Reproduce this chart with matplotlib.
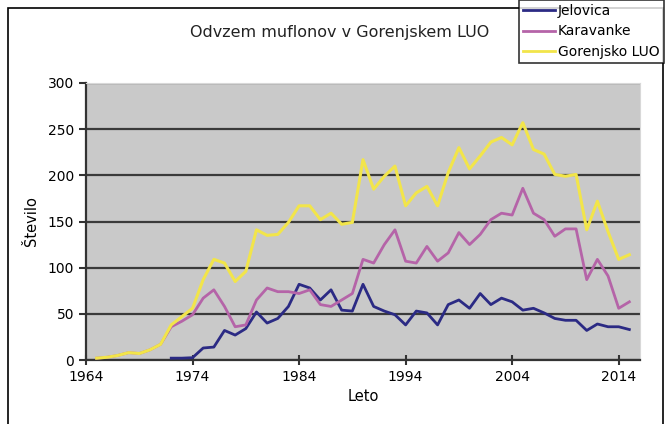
import matplotlib
matplotlib.use("Agg")
import matplotlib.pyplot as plt
from matplotlib.patches import Rectangle

years_gor = list(range(1965, 2016))
gorenjsko = [2, 3, 5, 8, 7, 11, 17, 38, 47, 56, 87, 109, 105, 85, 96, 141, 135, 136,
             149, 167, 167, 152, 159, 147, 149, 217, 185, 199, 210, 167, 181, 188, 167,
             203, 230, 207, 221, 236, 241, 233, 257, 228, 223, 201, 199, 201, 141, 172,
             139, 109, 114]

years_kar = list(range(1965, 2016))
karavanke = [2, 3, 5, 8, 7, 11, 17, 36, 42, 49, 67, 76, 58, 36, 38, 65, 78, 74,
             74, 72, 76, 60, 58, 65, 72, 109, 105, 125, 141, 107, 105, 123, 107,
             116, 138, 125, 136, 152, 159, 157, 186, 159, 152, 134, 142, 142, 87, 109,
             91, 56, 63]

years_jel = list(range(1972, 2016))
jelovica = [2, 2, 2.5, 13, 14, 32, 27, 34, 52, 40, 45, 58, 82, 78, 65, 76, 54, 53,
            82, 58, 53, 49, 38, 53, 51, 38, 60, 65, 56, 72, 60, 67, 63, 54, 56, 51,
            45, 43, 43, 32, 39, 36, 36, 33]

x_ticks = [1964, 1974, 1984, 1994, 2004, 2014]
y_ticks = [0, 50, 100, 150, 200, 250, 300]

W, H = 669, 424
fig = plt.figure(figsize=(W / 100, H / 100), dpi=100)
fig.patch.set_facecolor("white")

# outer chart frame
fig.patches.append(Rectangle((8 / W, -0.01), (663 - 8) / W, (H - 8) / H + 0.01,
                             transform=fig.transFigure, fill=False,
                             edgecolor="black", linewidth=1.2))

ax = fig.add_axes([86 / W, 1 - 360 / H, (640 - 86) / W, (360 - 83) / H])
ax.set_facecolor("#c9c9c9")

ax.plot(years_jel, jelovica, color="#2b2a84", linewidth=2.0, label="Jelovica", zorder=3)
ax.plot(years_kar, karavanke, color="#b564a8", linewidth=2.0, label="Karavanke", zorder=3)
ax.plot(years_gor, gorenjsko, color="#f2e54a", linewidth=2.2, label="Gorenjsko LUO", zorder=4)

ax.set_xlim(1964, 2016)
ax.set_ylim(0, 300)
ax.set_xticks(x_ticks)
ax.set_yticks(y_ticks)
ax.yaxis.grid(True, color="#3a3a3a", linewidth=1.6)
ax.set_axisbelow(True)
ax.tick_params(axis="both", labelsize=10, color="#333333", width=1.5, length=5)
ax.tick_params(axis="x", direction="inout", length=7)

for side in ("top", "right"):
    ax.spines[side].set_color("#d8d8d8")
for side in ("left", "bottom"):
    ax.spines[side].set_color("#333333")
    ax.spines[side].set_linewidth(1.6)

ax.set_xlabel("Leto", fontsize=10.5, labelpad=4)
ax.set_ylabel("Število", fontsize=10.5, labelpad=6)

fig.text(340 / W, 1 - 33 / H, "Odvzem muflonov v Gorenjskem LUO", ha="center",
         va="center", fontsize=11.5, color="#222222")

leg = fig.legend(loc="upper left", bbox_to_anchor=(519 / W, 1.0), frameon=True,
                 fancybox=False, edgecolor="black", fontsize=10, handlelength=2.3,
                 handletextpad=0.2, borderpad=0.3, labelspacing=0.45,
                 borderaxespad=0)
leg.get_frame().set_linewidth(1.2)
for line in leg.get_lines():
    line.set_linewidth(2.0)

fig.savefig("out.png", dpi=100)
